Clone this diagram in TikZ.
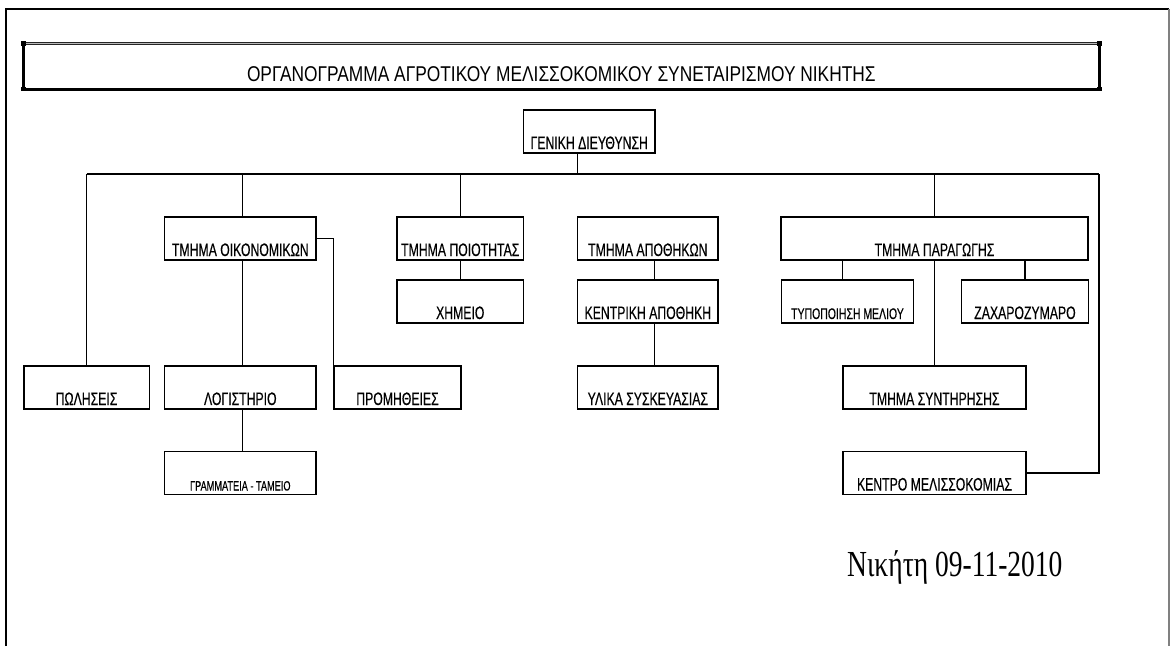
\documentclass[tikz,border=0pt]{standalone}
\usepackage{fontspec}
\setmainfont{Liberation Sans}
\newfontfamily\boxfont[FakeStretch=0.68, FakeBold=0.35]{Liberation Sans}
\newfontfamily\titlefont[FakeStretch=0.81]{Liberation Sans}
\newfontfamily\datefont[FakeStretch=0.75]{Liberation Serif}
\begin{document}
\begin{tikzpicture}[x=1pt,y=-1pt,
  orgbox/.style={draw=black, line width=1.3pt, inner sep=0pt, text height=39pt, text depth=4pt,
    font=\boxfont\fontsize{18}{20}\selectfont},
  smalltext/.style={font=\boxfont\fontsize{15.4}{17}\selectfont},
  tinytext/.style={font=\boxfont\fontsize{13.5}{15}\selectfont},
  link/.style={draw=black, line width=1.1pt},
  titleedge/.style={draw=black, line width=3pt},
]
\useasboundingbox (0,0) rectangle (1171,646);
% outer frame
\draw[line width=2.4pt] (6,646) -- (6,9) -- (1169,9);
\draw[gray, line width=1.2pt] (1169,9) -- (1169,646);
% title box
\draw[titleedge] (23.3,43.5) -- (23.3,89) -- (1099.3,89) -- (1099.3,43.5);
\draw[draw=black!85, line width=1.2pt, double=gray!55, double distance=0.9pt] (23.3,43.5) -- (1099.3,43.5);
\foreach \cx/\cy in {23.3/43.5, 23.3/89, 1099.3/43.5, 1099.3/89}
  \fill[black] (\cx-2.3,\cy-2.3) rectangle (\cx+2.3,\cy+2.3);
\node[anchor=base, inner sep=0pt, font=\titlefont\fontsize{21.4}{24}\selectfont] (title) at (561.3,81)
  {ΟΡΓΑΝΟΓΡΑΜΜΑ ΑΓΡΟΤΙΚΟΥ ΜΕΛΙΣΣΟΚΟΜΙΚΟΥ ΣΥΝΕΤΑΙΡΙΣΜΟΥ ΝΙΚΗΤΗΣ};
% boxes
\node[orgbox, minimum width=131.5pt] (gen) at (589.25,131.5) {ΓΕΝΙΚΗ ΔΙΕΥΘΥΝΣΗ};
\node[orgbox, minimum width=151.4pt] (oik) at (240.3,238.5) {ΤΜΗΜΑ ΟΙΚΟΝΟΜΙΚΩΝ};
\node[orgbox, minimum width=126.5pt] (poi) at (460.25,238.5) {ΤΜΗΜΑ ΠΟΙΟΤΗΤΑΣ};
\node[orgbox, minimum width=140.3pt] (apo) at (647.85,238.5) {ΤΜΗΜΑ ΑΠΟΘΗΚΩΝ};
\node[orgbox, minimum width=307pt] (par) at (934.5,238.5) {ΤΜΗΜΑ ΠΑΡΑΓΩΓΗΣ};
\node[orgbox, minimum width=126.5pt] (xim) at (460.25,301.5) {ΧΗΜΕΙΟ};
\node[orgbox, minimum width=140.3pt] (kap) at (647.85,301.5) {ΚΕΝΤΡΙΚΗ ΑΠΟΘΗΚΗ};
\node[orgbox, smalltext, minimum width=131.6pt] (typ) at (847.5,301.5) {ΤΥΠΟΠΟΙΗΣΗ ΜΕΛΙΟΥ};
\node[orgbox, minimum width=126.6pt] (zax) at (1025,301.5) {ΖΑΧΑΡΟΖΥΜΑΡΟ};
\node[orgbox, minimum width=125.3pt] (pol) at (86.5,387.5) {ΠΩΛΗΣΕΙΣ};
\node[orgbox, minimum width=151.4pt] (log) at (240.3,387.5) {ΛΟΓΙΣΤΗΡΙΟ};
\node[orgbox, minimum width=127pt] (pro) at (397.5,387.5) {ΠΡΟΜΗΘΕΙΕΣ};
\node[orgbox, minimum width=140.3pt] (yli) at (647.85,387.5) {ΥΛΙΚΑ ΣΥΣΚΕΥΑΣΙΑΣ};
\node[orgbox, minimum width=183pt] (syn) at (934.5,387.5) {ΤΜΗΜΑ ΣΥΝΤΗΡΗΣΗΣ};
\node[orgbox, tinytext, minimum width=151.4pt] (gra) at (240.3,473) {ΓΡΑΜΜΑΤΕΙΑ - ΤΑΜΕΙΟ};
\node[orgbox, minimum width=183pt] (ken) at (934.5,473) {ΚΕΝΤΡΟ ΜΕΛΙΣΣΟΚΟΜΙΑΣ};
% bus
\coordinate (busL) at (86.5,174);
\coordinate (busR) at (1099,174);
\draw[link] (busL) -- (busR);
\draw[link] (gen.south -| apo.west) -- (busL -| apo.west);
\draw[link] (busL) -- (pol.north);
\draw[link] ([xshift=2.3pt]oik.north) -- ([xshift=2.3pt]oik.north |- busL);
\draw[link] (poi.north) -- (poi.north |- busL);
\draw[link] (par.north) -- (par.north |- busL);
\draw[link] (busR) |- (ken.east);
% sub links
\draw[link] (oik.east) -| (pro.north west);
\draw[link] ([xshift=2.3pt]oik.south) -- ([xshift=2.3pt]log.north);
\draw[link] ([xshift=2.3pt]log.south) -- ([xshift=2.3pt]gra.north);
\draw[link] (poi.south) -- (xim.north);
\draw[link] ([xshift=6.2pt]apo.south) -- ([xshift=6.2pt]kap.north);
\draw[link] ([xshift=6.2pt]kap.south) -- ([xshift=6.2pt]yli.north);
\draw[link] (par.south -| syn.west) -- (typ.north -| syn.west);
\draw[link] (par.south -| zax.north) -- (zax.north);
\draw[link] (par.south) -- (syn.north);
% date
\node[anchor=base west, inner sep=0pt, font=\datefont\fontsize{36.7}{40}\selectfont] (date) at (847,576) {Νικήτη 09-11-2010};
\end{tikzpicture}
\end{document}
